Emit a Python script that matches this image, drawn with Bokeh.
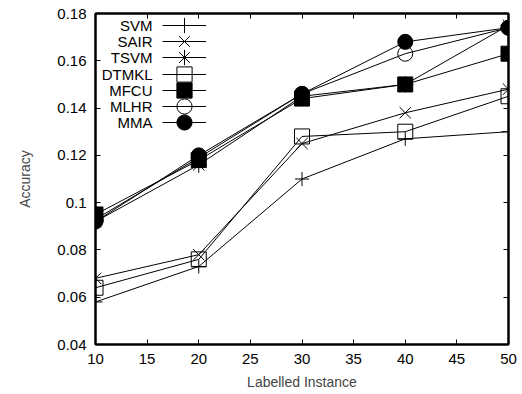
from bokeh.plotting import figure
from bokeh.models import LinearAxis, FixedTicker, Legend, LegendItem, Range1d, Label
from bokeh.core.properties import value
from bokeh.embed import file_html
from bokeh.resources import INLINE

# ---- data ----
x_vals = [10, 20, 30, 40, 50]
svm = [0.058, 0.073, 0.110, 0.127, 0.130]
sair = [0.068, 0.078, 0.125, 0.138, 0.148]
tsvm = [0.092, 0.116, 0.145, 0.150, 0.175]
dtmkl = [0.064, 0.076, 0.128, 0.130, 0.145]
mfcu = [0.095, 0.118, 0.144, 0.150, 0.163]
mlhr = [0.093, 0.119, 0.146, 0.163, 0.174]
mma = [0.092, 0.120, 0.146, 0.168, 0.174]

series_names = ["SVM", "SAIR", "TSVM", "DTMKL", "MFCU", "MLHR", "MMA"]
x_ticks = [10, 15, 20, 25, 30, 35, 40, 45, 50]
y_ticks = [0.04, 0.06, 0.08, 0.10, 0.12, 0.14, 0.16, 0.18]
y_tick_labels = ["0.04", "0.06", "0.08", "0.1", "0.12", "0.14", "0.16", "0.18"]

FONT = "Liberation Sans"

p = figure(width=522, height=394, output_backend="svg", toolbar_location=None,
           x_range=Range1d(10, 50), y_range=Range1d(0.04, 0.18),
           min_border_left=95, min_border_right=14, min_border_top=13, min_border_bottom=50)
p.xgrid.visible = False
p.ygrid.visible = False
p.outline_line_color = "black"
p.outline_line_width = 2
p.background_fill_color = "white"
p.border_fill_color = "white"

# styles per series: (marker, size, fill)
styles = {
    "SVM": ("cross", 14, None),
    "SAIR": ("x", 16, None),
    "TSVM": ("asterisk", 16, None),
    "DTMKL": ("square", 15, None),
    "MFCU": ("square", 15, "black"),
    "MLHR": ("circle", 15, None),
    "MMA": ("circle", 15, "black"),
}
data = {"SVM": svm, "SAIR": sair, "TSVM": tsvm, "DTMKL": dtmkl,
        "MFCU": mfcu, "MLHR": mlhr, "MMA": mma}

FRAME_H = 331
ROW0 = 12      # centre of first legend row, px below frame top
ROW_STEP = 16.2
GLYPH_H = 38

for i, name in enumerate(series_names):
    marker, size, fill = styles[name]
    ln = p.line(x_vals, data[name], line_color="black", line_width=1)
    sc = p.scatter(x_vals, data[name], marker=marker, size=size,
                   line_color="black", line_width=1,
                   fill_color=fill if fill else None)
    row_c = ROW0 + ROW_STEP * i
    loc_y = int(round(FRAME_H - (row_c + GLYPH_H / 2)))
    lg = Legend(items=[LegendItem(label=value(""), renderers=[ln, sc])],
                location=(67, loc_y), padding=0, margin=0,
                glyph_width=44, glyph_height=GLYPH_H, label_height=16, label_width=0,
                spacing=0, label_standoff=0, border_line_color=None,
                background_fill_alpha=0,
                label_text_font=FONT, label_text_font_size="15px")
    p.add_layout(lg, "center")
    p.add_layout(Label(x=57, y=FRAME_H - row_c, x_units="screen", y_units="screen",
                       text=name, text_align="right", text_baseline="middle",
                       text_font=FONT, text_font_size="15px", text_color="black"))

def style_axis(ax, labels=True):
    ax.major_tick_in = 5
    ax.major_tick_out = 0
    ax.minor_tick_in = 0
    ax.minor_tick_out = 0
    ax.axis_line_width = 2
    ax.axis_line_color = "black"
    ax.major_tick_line_color = "black"
    ax.major_tick_line_width = 1
    ax.major_label_text_font = FONT
    ax.major_label_text_color = "black"
    if labels:
        ax.major_label_text_font_size = "15px"
    else:
        ax.major_label_text_font_size = "1px"
        ax.major_label_standoff = 0

# bottom
xa = p.xaxis[0]
xa.ticker = FixedTicker(ticks=x_ticks)
style_axis(xa)
xa.major_label_standoff = 9
xa.axis_label = "Labelled Instance"
xa.axis_label_text_font = FONT
xa.axis_label_text_font_size = "14px"
xa.axis_label_text_font_style = "normal"
xa.axis_label_standoff = 7

# left
ya = p.yaxis[0]
ya.ticker = FixedTicker(ticks=y_ticks)
ya.major_label_overrides = {t: l for t, l in zip(y_ticks, y_tick_labels)}
style_axis(ya)
ya.major_label_standoff = 9
ya.axis_label = "Accuracy"
ya.axis_label_text_font = FONT
ya.axis_label_text_font_size = "14px"
ya.axis_label_text_font_style = "normal"
ya.axis_label_standoff = 21

# mirrored axes (ticks only)
ra = LinearAxis(ticker=FixedTicker(ticks=y_ticks))
style_axis(ra, labels=False)
ra.major_label_overrides = {t: "" for t in y_ticks}
p.add_layout(ra, "right")
ta = LinearAxis(ticker=FixedTicker(ticks=x_ticks))
style_axis(ta, labels=False)
ta.major_label_overrides = {t: "" for t in x_ticks}
p.add_layout(ta, "above")

open("out.html", "w").write(file_html(p, INLINE))
